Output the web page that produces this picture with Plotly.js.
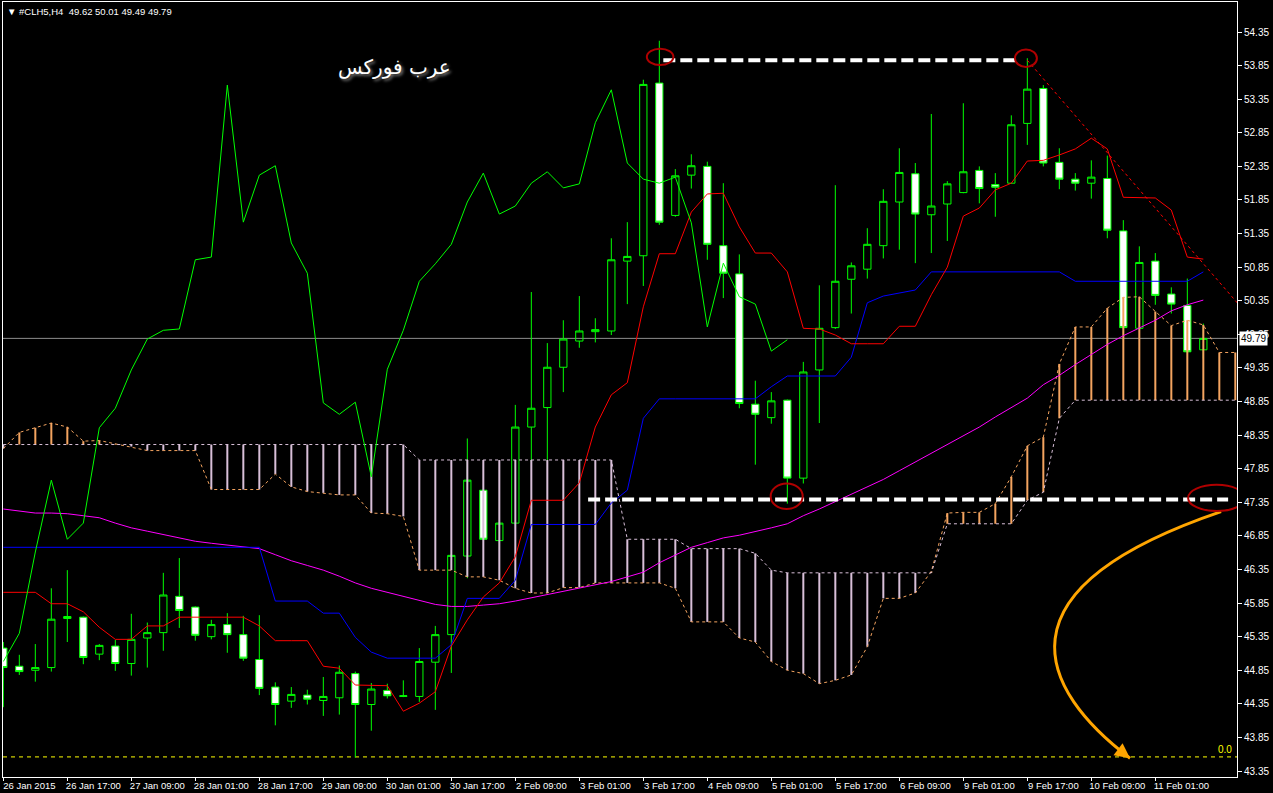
<!DOCTYPE html>
<html><head><meta charset="utf-8">
<script src="https://cdn.plot.ly/plotly-3.0.1.min.js"></script>
<style>html,body{margin:0;padding:0;background:#000;}#chart{width:1273px;height:793px;}</style>
</head><body><div id="chart"></div>
<script>
// ---- Price data (#CLH5, H4), bar index 0..75 ----
const openP  = [45.18,44.91,44.85,44.89,45.62,45.64,45.09,45.21,44.95,45.33,45.41,45.95,45.79,45.35,45.53,45.38,45.01,44.60,44.39,44.48,44.40,44.44,44.80,44.34,44.55,44.46,44.46,44.97,45.38,46.55,47.53,46.78,47.04,48.47,48.76,49.36,49.75,49.89,49.90,50.94,51.02,53.59,51.62,52.22,52.35,51.17,50.75,48.81,48.61,48.87,47.71,49.32,49.95,50.67,50.82,51.17,51.82,52.24,51.63,51.79,51.96,52.29,52.08,52.10,52.99,53.51,52.41,52.16,52.10,52.17,51.39,49.94,50.94,50.45,50.28,49.62];
const highP  = [45.27,45.08,45.24,46.07,46.34,45.65,45.24,45.30,45.69,45.56,46.30,46.52,45.80,45.60,45.70,45.66,45.67,44.67,44.60,44.56,44.75,44.92,44.83,44.66,44.65,44.70,45.18,45.51,46.58,48.30,47.55,47.05,48.80,50.48,49.72,50.06,50.42,50.09,51.28,51.52,53.64,54.22,52.31,52.53,52.42,52.10,51.04,49.16,48.99,48.88,49.44,50.58,52.07,50.92,51.43,52.01,52.62,52.40,53.13,52.13,53.29,52.35,52.25,53.11,53.96,53.56,52.62,52.25,52.44,52.51,51.55,51.16,51.06,50.55,50.68,50.01];
const lowP   = [44.30,44.78,44.68,44.83,45.27,44.94,45.00,44.84,44.77,44.89,45.14,45.48,45.29,45.31,45.11,44.99,44.48,44.03,44.29,44.34,44.17,44.19,43.55,43.95,44.43,44.45,44.38,44.26,44.81,46.22,46.78,46.77,47.02,47.95,47.95,48.99,49.65,49.73,49.84,50.30,50.57,51.48,51.60,52.02,50.96,50.39,48.75,47.91,48.52,47.33,47.63,48.53,49.93,50.16,50.68,50.98,51.11,50.91,51.06,51.24,51.95,51.80,51.60,52.09,52.67,52.35,52.01,51.99,51.87,51.28,49.94,49.93,50.29,50.16,49.58,49.49];
const closeP = [44.89,44.83,44.89,45.61,45.65,45.04,45.22,44.95,45.31,45.41,45.97,45.74,45.37,45.53,45.38,45.03,44.58,44.34,44.49,44.42,44.46,44.82,44.34,44.57,44.47,44.47,44.98,45.38,46.56,47.68,46.80,47.04,48.47,48.75,49.36,49.78,49.90,49.92,50.96,51.01,53.57,51.52,52.21,52.36,51.19,50.76,48.82,48.66,48.86,47.71,49.29,49.94,50.64,50.87,51.19,51.83,52.26,51.64,51.76,52.09,52.27,52.02,52.04,52.97,53.50,52.40,52.16,52.10,52.19,51.40,49.95,50.92,50.43,50.30,49.59,49.79];

// ---- Ichimoku ----
const tenkan = [46.01,46.01,46.01,45.84,45.84,45.72,45.49,45.31,45.31,45.51,45.51,45.64,45.64,45.64,45.64,45.64,45.51,45.29,45.29,45.29,44.91,44.88,44.63,44.62,44.62,44.24,44.36,44.53,45.21,45.60,45.94,46.15,46.54,47.38,47.38,47.38,47.64,48.47,48.95,49.13,50.26,51.05,51.05,51.67,51.94,51.95,51.45,51.06,51.06,50.78,49.94,49.93,49.84,49.71,49.71,49.71,49.97,49.97,50.44,50.85,51.61,51.73,52.00,52.10,52.43,52.44,52.52,52.61,52.77,52.61,51.89,51.88,51.88,51.70,51.00,50.97];
const kijun  = [46.68,46.68,46.68,46.68,46.68,46.68,46.68,46.68,46.68,46.68,46.68,46.68,46.68,46.68,46.68,46.68,46.68,45.88,45.88,45.88,45.70,45.70,45.34,45.12,45.03,45.03,45.03,45.03,45.23,45.92,45.92,45.92,46.19,47.02,47.02,47.02,47.02,47.02,47.34,47.53,48.60,48.89,48.89,48.89,48.89,48.89,48.89,48.89,49.07,49.23,49.23,49.23,49.23,49.51,50.32,50.42,50.47,50.51,50.78,50.78,50.78,50.78,50.78,50.78,50.78,50.78,50.78,50.64,50.64,50.64,50.64,50.64,50.64,50.64,50.64,50.78];
const chikou = [44.98,45.40,46.61,47.68,46.80,47.04,48.46,48.75,49.32,49.78,49.91,49.93,50.96,51.00,53.56,51.52,52.22,52.36,51.21,50.76,48.83,48.66,48.84,47.73,49.33,49.91,50.64,50.90,51.19,51.82,52.25,51.64,51.76,52.10,52.27,52.03,52.09,53.00,53.49,52.40,52.16,52.10,52.19,51.51,49.96,50.91,50.41,50.30,49.60,49.77];
const spanA  = [48.15,48.39,48.46,48.53,48.47,48.26,48.27,48.22,48.18,48.12,48.12,48.12,48.12,47.54,47.54,47.54,47.54,47.77,47.58,47.51,47.49,47.46,47.46,47.19,47.18,47.14,46.34,46.34,46.34,46.24,46.24,46.19,46.07,46.00,46.00,46.08,46.08,46.15,46.15,46.15,46.15,46.15,46.07,45.57,45.57,45.57,45.33,45.27,44.98,44.85,44.80,44.65,44.70,44.78,45.20,45.92,45.92,46.00,46.32,47.19,47.20,47.20,47.33,47.73,48.19,48.32,49.41,49.96,49.96,50.24,50.40,50.41,50.19,49.98,50.06,49.99,49.58,49.58];
const spanB  = [48.21,48.21,48.21,48.21,48.21,48.21,48.21,48.21,48.21,48.21,48.21,48.21,48.21,48.21,48.21,48.21,48.21,48.21,48.21,48.21,48.21,48.21,48.21,48.21,48.21,48.21,47.98,47.98,47.98,47.98,47.98,47.98,47.98,47.98,47.98,47.98,47.98,47.98,47.98,46.80,46.80,46.80,46.80,46.66,46.66,46.66,46.66,46.59,46.34,46.30,46.30,46.30,46.30,46.30,46.30,46.30,46.30,46.30,46.30,47.03,47.03,47.03,47.03,47.03,47.38,47.50,48.60,48.87,48.87,48.87,48.87,48.87,48.87,48.87,48.87,48.87,48.87,48.87];
// ---- Moving average (magenta) ----
const ma = [47.25,47.22,47.19,47.19,47.18,47.15,47.12,47.04,46.97,46.92,46.87,46.82,46.77,46.74,46.71,46.69,46.66,46.57,46.48,46.41,46.34,46.25,46.15,46.07,46.01,45.94,45.88,45.83,45.80,45.80,45.82,45.84,45.88,45.93,45.98,46.03,46.08,46.13,46.17,46.24,46.31,46.45,46.57,46.68,46.75,46.82,46.86,46.91,46.97,47.03,47.15,47.25,47.36,47.46,47.57,47.69,47.82,47.95,48.08,48.20,48.34,48.47,48.62,48.76,48.90,49.10,49.24,49.40,49.55,49.70,49.83,49.94,50.06,50.20,50.29,50.36];

// ---- Axis labels (one label every 4 bars) ----
const tickLabels = ['26 Jan 2015','26 Jan 17:00','27 Jan 09:00','28 Jan 01:00','28 Jan 17:00','29 Jan 09:00','30 Jan 01:00','30 Jan 17:00','2 Feb 09:00','3 Feb 01:00','3 Feb 17:00','4 Feb 09:00','5 Feb 01:00','5 Feb 17:00','6 Feb 09:00','9 Feb 01:00','9 Feb 17:00','10 Feb 09:00','11 Feb 01:00'];
const barsPerLabel = 4;
const symbolHeader = '#CLH5,H4\u00a0\u00a049.62 50.01 49.49 49.79';
const watermark = 'عرب فوركس';
const lastPrice = 49.79;
const fiboZero = 43.56;
const resistance = 53.93;
const support = 47.39;

// ---- hand drawings (bar index / price) ----
const topLineBars = [41.25, 63.4];
const supportLineBars = [36.55, 76.55];
const trendBars = [64.0, 77.3];
const trendPrices = [53.93, 50.27];
const ellipses = [
  {x0:40.22,x1:41.88,y0:53.86,y1:54.10},
  {x0:63.23,x1:64.60,y0:53.83,y1:54.09},
  {x0:47.96,x1:49.96,y0:47.25,y1:47.63},
  {x0:74.05,x1:77.61,y0:47.22,y1:47.61}
];
const arrowPath = 'M 76.11,47.21 C 61.67,46.04 64.79,44.56 70.42,43.54';
const arrowHead = {x:70.42, y:43.54};

const bars = openP.map((_, i) => i);
const chikouX = chikou.map((_, i) => i);
const cloudX = spanA.map((_, i) => i);

const upX=[],upY=[],dnX=[],dnY=[];
spanA.forEach((a,i)=>{
  const b = spanB[i];
  if (a >= b) { upX.push(i,i,null); upY.push(a,b,null); }
  else { dnX.push(i,i,null); dnY.push(a,b,null); }
});

const SANDY = '#F4A460', THISTLE = '#D8BFD8';
const traces = [
  {type:'scatter',mode:'lines',x:upX,y:upY,line:{color:SANDY,width:2},hoverinfo:'skip'},
  {type:'scatter',mode:'lines',x:dnX,y:dnY,line:{color:THISTLE,width:2},hoverinfo:'skip'},
  {type:'scatter',mode:'lines',x:cloudX,y:spanA,line:{color:SANDY,width:1,dash:'3px,3px'}},
  {type:'scatter',mode:'lines',x:cloudX,y:spanB,line:{color:THISTLE,width:1,dash:'3px,3px'}},
  {type:'candlestick',x:bars,open:openP,high:highP,low:lowP,close:closeP,
    increasing:{line:{color:'#00FF00',width:1},fillcolor:'rgba(0,0,0,0)'},
    decreasing:{line:{color:'#00FF00',width:1},fillcolor:'#FFFFFF'},
    whiskerwidth:0},
  {type:'scatter',mode:'lines',x:bars,y:ma,line:{color:'#FF00FF',width:1}},
  {type:'scatter',mode:'lines',x:bars,y:kijun,line:{color:'#0000FF',width:1}},
  {type:'scatter',mode:'lines',x:bars,y:tenkan,line:{color:'#FF0000',width:1}},
  {type:'scatter',mode:'lines',x:chikouX,y:chikou,line:{color:'#00FF00',width:1}}
];

const shapes = [
  {type:'line',xref:'paper',x0:0,x1:1,yref:'y',y0:lastPrice,y1:lastPrice,line:{color:'#8C8C8C',width:1},layer:'below'},
  {type:'line',xref:'paper',x0:0,x1:1,yref:'y',y0:fiboZero,y1:fiboZero,line:{color:'#FFFF00',width:1,dash:'4px,4px'},layer:'below'},
  {type:'line',xref:'x',yref:'y',x0:topLineBars[0],x1:topLineBars[1],y0:resistance,y1:resistance,line:{color:'#FFFFFF',width:4,dash:'12px,5px'},layer:'above'},
  {type:'line',xref:'x',yref:'y',x0:supportLineBars[0],x1:supportLineBars[1],y0:support,y1:support,line:{color:'#FFFFFF',width:4,dash:'12px,5px'},layer:'above'},
  {type:'line',xref:'x',yref:'y',x0:trendBars[0],x1:trendBars[1],y0:trendPrices[0],y1:trendPrices[1],line:{color:'#FF0000',width:1,dash:'3px,3px'},layer:'above'},
  {type:'path',xref:'x',yref:'y',path:arrowPath,line:{color:'#FFA500',width:3},layer:'above'}
].concat(ellipses.map(e=>({type:'circle',xref:'x',yref:'y',x0:e.x0,x1:e.x1,y0:e.y0,y1:e.y1,line:{color:'#B00000',width:2},layer:'above'})));

const annotations = [
  {xref:'paper',yref:'paper',x:0,y:1,xanchor:'left',yanchor:'top',xshift:2,yshift:-2,showarrow:false,
   text:'\u25BC '+symbolHeader,font:{family:'Liberation Sans',size:9.5,color:'#FFFFFF'}},
  {xref:'paper',yref:'paper',x:0.3169,y:0.916,xanchor:'center',yanchor:'middle',showarrow:false,
   text:watermark,font:{family:'DejaVu Sans',size:20,color:'#FFFFFF',shadow:'2px 2px 3px #777'}},
  {xref:'paper',yref:'y',x:1,y:lastPrice,xanchor:'left',yanchor:'middle',xshift:2,showarrow:false,
   text:lastPrice.toFixed(2),bgcolor:'#FFFFFF',borderpad:1,font:{family:'Liberation Sans',size:10,color:'#000000'}},
  {xref:'paper',yref:'y',x:1,y:fiboZero,xanchor:'right',yanchor:'bottom',xshift:-3,showarrow:false,
   text:'0.0',font:{family:'Liberation Sans',size:10,color:'#FFFF00'}},
  {xref:'x',yref:'y',x:arrowHead.x,y:arrowHead.y,ax:-12,ay:-9,showarrow:true,arrowhead:2,arrowsize:1,arrowwidth:3,arrowcolor:'#FFA500',text:''}
];

const layout = {
  width:1273,height:793,
  paper_bgcolor:'#000000',plot_bgcolor:'#000000',
  margin:{l:3,r:36,t:2,b:16},
  showlegend:false,hovermode:false,boxgap:0.35,
  xaxis:{range:[-0.02,77.105],tickmode:'array',
    tickvals:tickLabels.map((_,k)=>k*barsPerLabel),ticktext:tickLabels,
    ticks:'outside',ticklen:3,tickcolor:'#FFFFFF',showgrid:false,zeroline:false,
    showline:true,linecolor:'#FFFFFF',linewidth:1,mirror:true,
    tickfont:{family:'Liberation Sans',size:9.5,color:'#FFFFFF'},ticklabelshift:26,ticklabelstandoff:-3,
    rangeslider:{visible:false},fixedrange:true,automargin:false},
  yaxis:{side:'right',range:[43.261,54.797],tickmode:'linear',tick0:43.35,dtick:0.5,tickformat:'.2f',
    ticks:'outside',ticklen:4,tickcolor:'#FFFFFF',showgrid:false,zeroline:false,
    showline:true,linecolor:'#FFFFFF',linewidth:1,mirror:true,
    tickfont:{family:'Liberation Sans',size:10,color:'#FFFFFF'},fixedrange:true,automargin:false},
  shapes:shapes,annotations:annotations
};

Plotly.newPlot('chart',traces,layout,{displayModeBar:false,staticPlot:true});
</script></body></html>
